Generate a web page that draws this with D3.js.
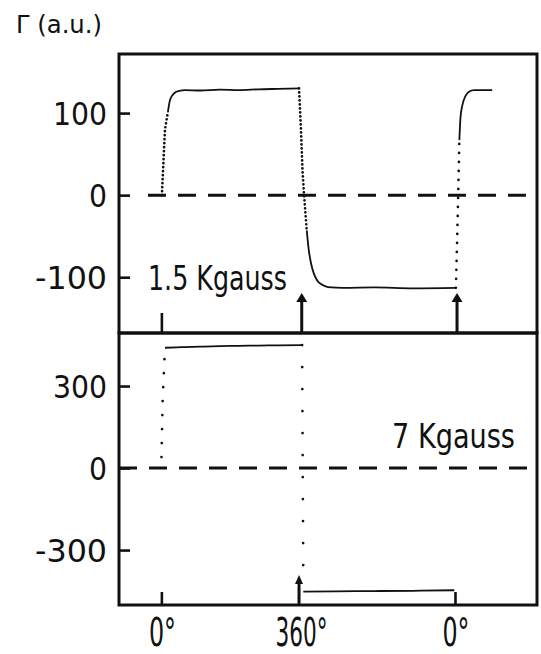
<!DOCTYPE html>
<html>
<head>
<meta charset="utf-8">
<script src="https://cdn.jsdelivr.net/npm/d3@7"></script>
<style>
  body { margin: 0; background: #fff; }
  text { font-family: "DejaVu Sans Condensed", "DejaVu Sans", sans-serif; font-stretch: condensed; fill: #111; }
</style>
</head>
<body>
<script>
// x is the sweep of the field angle, in degrees of travel
const xTicks = [0, 360, 760];
const xTickLabels = ["0°", "360°", "0°"];

// upper panel, 1.5 Kgauss
const topTicks = [100, 0, -100];
const topBase = [[-36, 0], [0, 0]];
const topRise1 = [[0, 0], [4, 40], [8, 80], [15.5, 101]];
const topHigh = [[15.5, 101], [20, 114], [26, 121], [34, 125], [45, 127], [60, 128], [100, 127.5], [150, 128.5], [200, 128], [250, 129], [300, 129.5], [355, 130]];
const topFall = [[355, 130], [360, 80], [364, 30], [368, 0], [375, -43]];
const topLow = [[375, -43], [380, -66], [386, -83], [393, -95], [402, -104], [414, -109], [430, -112], [470, -113], [550, -112.5], [650, -113.5], [761, -113]];
const topRise2 = [[761, -113], [764, -60], [767, 0], [770, 67]];
const topHigh2 = [[770, 67], [773, 95], [778, 110], [785, 120], [795, 126], [808, 128], [830, 128], [855, 128]];
const topArrows = [362, 764];

// lower panel, 7 Kgauss
const botTicks = [300, 0, -300];
const botRise = [[-1, 40], [2, 250], [8, 440]];
const botHigh = [[8, 440], [50, 442], [100, 444], [150, 446], [200, 447], [250, 448], [300, 449], [363, 450]];
const botFall = [[363, 450], [366, -380]];
const botLow = [[366, -452], [450, -451], [550, -450], [650, -449], [757, -447]];
const botArrows = [355];

const W = 541, H = 654;
const svg = d3.select("body").append("svg").attr("width", W).attr("height", H);

const x = d3.scaleLinear().domain([-111, 971]).range([119, 537]);
const yTop = d3.scaleLinear().domain([-168, 172]).range([333, 54]);
const yBot = d3.scaleLinear().domain([-501, 494]).range([605, 333]);

const fmt = d => d < 0 ? "-" + Math.abs(d) : String(d);
const labelWidth = s => s.replace("-", "").length * 18 + (s[0] === "-" ? 18 : 0);

function panel(y, ticks, solid, dotted, arrows, dashStart) {
  const g = svg.append("g");
  const [y0, y1] = y.range();

  // dashed zero line
  g.append("line")
    .attr("x1", dashStart).attr("x2", x.range()[1])
    .attr("y1", y(0)).attr("y2", y(0))
    .attr("stroke", "#111").attr("stroke-width", 3)
    .attr("stroke-dasharray", "18,12");

  const line = d3.line().x(d => x(d[0])).y(d => y(d[1])).curve(d3.curveMonotoneX);
  const lineL = d3.line().x(d => x(d[0])).y(d => y(d[1]));

  solid.forEach(s => {
    g.append("path").attr("d", line(s)).attr("fill", "none")
      .attr("stroke", "#111").attr("stroke-width", 1.8);
  });
  dotted.forEach(([s, gap]) => {
    g.append("path").attr("d", lineL(s)).attr("fill", "none")
      .attr("stroke", "#111").attr("stroke-width", 2.7)
      .attr("stroke-linecap", "round")
      .attr("stroke-dasharray", "0," + gap);
  });

  // arrows rising from the lower edge
  arrows.forEach(a => {
    const [len, hw] = arrowSize(y0);
    g.append("line").attr("x1", x(a)).attr("x2", x(a))
      .attr("y1", y0).attr("y2", y0 - len + 6)
      .attr("stroke", "#111").attr("stroke-width", 3);
    g.append("path")
      .attr("d", `M${x(a) - hw},${y0 - len + 9} L${x(a)},${y0 - len} L${x(a) + hw},${y0 - len + 9} Z`)
      .attr("fill", "#111");
  });

  // y ticks, pointing in
  const ax = d3.axisLeft(y).tickValues(ticks).tickSize(-11).tickPadding(12).tickFormat(fmt);
  const ag = g.append("g").attr("transform", `translate(${x.range()[0]},0)`).call(ax);
  ag.select(".domain").remove();
  ag.selectAll(".tick line").attr("stroke", "#111").attr("stroke-width", 2.6);
  ag.selectAll(".tick text").attr("font-size", 32)
    .attr("textLength", d => labelWidth(fmt(d))).attr("lengthAdjust", "spacingAndGlyphs")
    .attr("dy", "0.36em").attr("fill", "#111");

  // frame
  g.append("rect").attr("x", x.range()[0]).attr("y", y1)
    .attr("width", x.range()[1] - x.range()[0]).attr("height", y0 - y1)
    .attr("fill", "none").attr("stroke", "#111").attr("stroke-width", 3);
  return g;
}
function arrowSize(y0) { return y0 > 400 ? [30, 4] : [40, 5.5]; }

const gTop = panel(yTop, topTicks,
  [topBase, topHigh, topLow, topHigh2],
  [[topRise1, 4], [topFall, 4], [topRise2, 9]],
  topArrows, x(-36));
const gBot = panel(yBot, botTicks,
  [botHigh, botLow],
  [[botRise, 14], [botFall, 22]],
  botArrows, x.range()[0]);

// plain ticks at 0° on the lower edges
gTop.append("line").attr("x1", x(xTicks[0])).attr("x2", x(xTicks[0]))
  .attr("y1", yTop.range()[0]).attr("y2", yTop.range()[0] - 20)
  .attr("stroke", "#111").attr("stroke-width", 2.6);
[xTicks[0], xTicks[2]].forEach(v => {
  gBot.append("line").attr("x1", x(v)).attr("x2", x(v))
    .attr("y1", yBot.range()[0]).attr("y2", yBot.range()[0] - 13)
    .attr("stroke", "#111").attr("stroke-width", 2.6);
});

// x labels
const xa = d3.axisBottom(x).tickValues(xTicks).tickSize(0).tickPadding(13)
  .tickFormat((d, i) => xTickLabels[i]);
const xg = svg.append("g").attr("transform", `translate(0,${yBot.range()[0]})`).call(xa);
xg.select(".domain").remove();
xg.selectAll(".tick text").attr("font-size", 39).attr("fill", "#111")
  .attr("textLength", (d, i) => xTickLabels[i].length > 2 ? 52 : 27)
  .attr("lengthAdjust", "spacingAndGlyphs");

// annotations
svg.append("text").attr("x", 148).attr("y", 290).attr("font-size", 33)
  .attr("textLength", 139).attr("lengthAdjust", "spacingAndGlyphs").text("1.5 Kgauss");
svg.append("text").attr("x", 392).attr("y", 448).attr("font-size", 34)
  .attr("textLength", 123).attr("lengthAdjust", "spacingAndGlyphs").text("7 Kgauss");
svg.append("text").attr("x", 16).attr("y", 33).attr("font-size", 25)
  .attr("textLength", 86).attr("lengthAdjust", "spacingAndGlyphs").text("Γ (a.u.)");
</script>
</body>
</html>
